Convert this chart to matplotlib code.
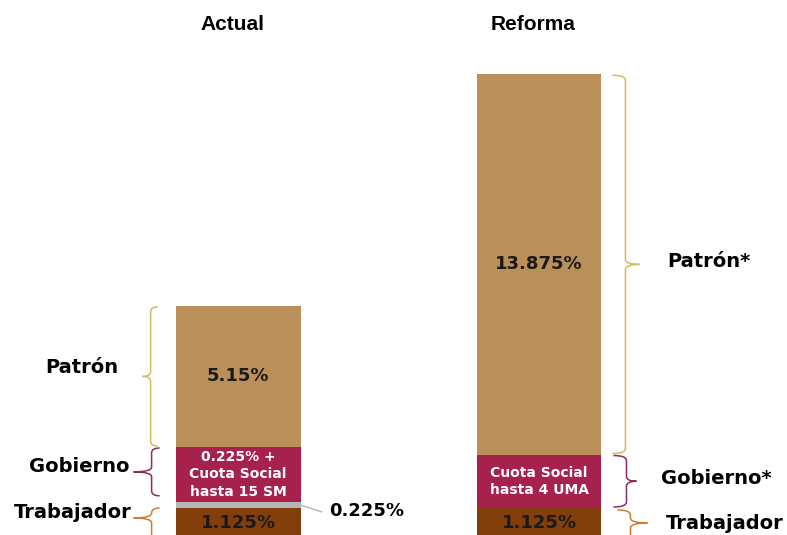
import matplotlib
matplotlib.use("Agg")
import matplotlib.pyplot as plt
from matplotlib.path import Path
from matplotlib.patches import PathPatch

# ---- data ----
scenarios = ['Actual', 'Reforma']
trabajador = [1.125, 1.125]
gris = [0.225, 0.0]
gobierno = [2.0, 1.95]          # cuota social, estimated displayed height
patron = [5.15, 13.875]
patron_labels = ['5.15%', '13.875%']
trab_labels = ['1.125%', '1.125%']
gob_labels = ['0.225% +\nCuota Social\nhasta 15 SM', 'Cuota Social\nhasta 4 UMA']
gris_label = '0.225%'
names_left = ['Patrón', 'Gobierno', 'Trabajador']
names_right = ['Patrón*', 'Gobierno*', 'Trabajador']

c_patron = '#bb8f59'
c_gob = '#a6214c'
c_gris = '#b5b5b5'
c_trab = '#823e0b'
c_br_patron = '#d8b957'
c_br_gob = '#8e2b5c'
c_br_trab = '#d37a32'

fig = plt.figure(figsize=(7.87, 5.35), dpi=100)
ax = fig.add_axes([0, 0, 1, 1])
ax.set_xlim(-0.791, 1.824)
ax.set_ylim(0.139, 19.66)
ax.axis('off')

PX = 1 / 301.0
PY = 1 / 27.4
xs = [0, 1]
w = 0.415

lab_font = dict(family=['DejaVu Sans'], fontweight='bold')

b1 = [t + g for t, g in zip(trabajador, gris)]
b2 = [a + g for a, g in zip(b1, gobierno)]
ax.bar(xs, trabajador, w, color=c_trab)
ax.bar(xs, gris, w, bottom=trabajador, color=c_gris)
ax.bar(xs, gobierno, w, bottom=b1, color=c_gob)
ax.bar(xs, patron, w, bottom=b2, color=c_patron)


def brace(xv, y0, y1, d, hook, tip, color, ymid=None, r=0.18):
    if ymid is None:
        ymid = (y0 + y1) / 2
    hx = xv + d * hook
    tx = xv - d * tip
    verts = [(hx, y1), (xv, y1), (xv, y1 - r),
             (xv, ymid + r), (xv, ymid), (tx, ymid),
             (xv, ymid), (xv, ymid - r),
             (xv, y0 + r), (xv, y0), (hx, y0)]
    codes = [Path.MOVETO, Path.CURVE3, Path.CURVE3,
             Path.LINETO, Path.CURVE3, Path.CURVE3,
             Path.CURVE3, Path.CURVE3,
             Path.LINETO, Path.CURVE3, Path.CURVE3]
    ax.add_patch(PathPatch(Path(verts, codes), fill=False, edgecolor=color, lw=1.1))


for i, x in enumerate(xs):
    ax.text(x - 6 * PX, 18.75, scenarios[i], ha='center', va='center', fontsize=15,
            fontweight='bold', family=['Liberation Sans Narrow', 'Liberation Sans'])
    ax.text(x, b2[i] + patron[i] / 2, patron_labels[i], ha='center', va='center',
            fontsize=13, color='#1a1a1a', **lab_font)
    ax.text(x, trabajador[i] / 2, trab_labels[i], ha='center', va='center',
            fontsize=13, color='#1a1a1a', **lab_font)
    ax.text(x, b1[i] + gobierno[i] / 2, gob_labels[i], ha='center', va='center',
            fontsize=10, color='white', linespacing=1.3, **lab_font)

# left braces (Actual)
x0 = xs[0] - w / 2
top0 = b2[0] + patron[0]
brace(x0 - 25 * PX, b2[0] + 1 * PY, top0 - 1 * PY, 1, 7 * PX, 8 * PX, c_br_patron)
brace(x0 - 24 * PX, b1[0] + 6 * PY, b2[0] - 1 * PY, 1, 8 * PX, 18 * PX, c_br_gob)
brace(x0 - 24 * PX, -0.5, trabajador[0] - 0 * PY, 1, 8 * PX, 18 * PX, c_br_trab,
      ymid=trabajador[0] - 10 * PY)
ax.text(x0 - 57 * PX, b2[0] + patron[0] / 2 + 9 * PY, names_left[0], ha='right', va='center',
        fontsize=14, **lab_font)
ax.text(x0 - 46 * PX, b1[0] + gobierno[0] / 2 + 8 * PY, names_left[1], ha='right', va='center',
        fontsize=14, **lab_font)
ax.text(x0 - 44 * PX, trabajador[0] - 5 * PY, names_left[2], ha='right', va='center',
        fontsize=14, **lab_font)

# grey connector
xr = xs[0] + w / 2
yg = trabajador[0] + gris[0] / 2
ax.plot([xr, xr + 21 * PX], [yg, yg - 7 * PY], color='#b5b5b5', lw=1)
ax.text(xr + 29 * PX, yg - 6 * PY, gris_label, ha='left', va='center', fontsize=13, **lab_font)

# right braces (Reforma)
x1 = xs[1] + w / 2
top1 = b2[1] + patron[1]
brace(x1 + 24 * PX, b2[1] + 1 * PY, top1 - 1 * PY, -1, 13 * PX, 14 * PX, c_br_patron)
brace(x1 + 25 * PX, b1[1] + 1 * PY, b2[1] - 1 * PY, -1, 13 * PX, 10 * PX, c_br_gob)
brace(x1 + 29 * PX, -0.5, trabajador[1] - 2 * PY, -1, 13 * PX, 17 * PX, c_br_trab,
      ymid=trabajador[1] - 15 * PY)
ax.text(x1 + 66 * PX, b2[1] + patron[1] / 2 + 3 * PY, names_right[0], ha='left', va='center',
        fontsize=14, **lab_font)
ax.text(x1 + 60 * PX, b1[1] + gobierno[1] / 2 + 3 * PY, names_right[1], ha='left', va='center',
        fontsize=14, **lab_font)
ax.text(x1 + 64 * PX, trabajador[1] - 16 * PY, names_right[2], ha='left', va='center',
        fontsize=14, **lab_font)

fig.savefig('out.png', dpi=100)
